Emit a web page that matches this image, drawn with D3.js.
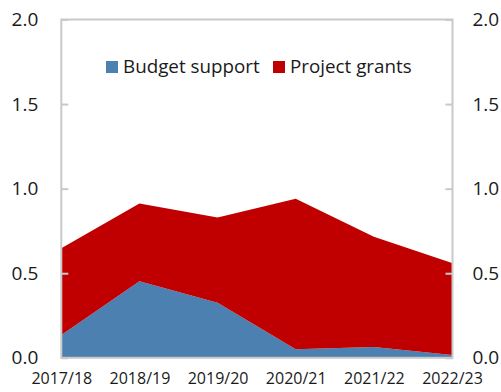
<!DOCTYPE html>
<html>
<head>
<meta charset="utf-8">
<script src="https://cdn.jsdelivr.net/npm/d3@7"></script>
<style>
  html, body { margin: 0; padding: 0; background: #fff; }
  svg { display: block; }
  text { font-family: "Open Sans", "Noto Sans", sans-serif; fill: #1a1a1a; }
</style>
</head>
<body>
<svg id="chart" width="501" height="392"></svg>
<script>
// Fiscal years on the x axis
const years = ["2017/18", "2018/19", "2019/20", "2020/21", "2021/22", "2022/23"];
// Series values (stacked)
const budgetSupport = [0.135, 0.453, 0.325, 0.05, 0.064, 0.016];
const projectGrants = [0.513, 0.459, 0.505, 0.89, 0.651, 0.545];
// Axis ticks
const yTicks = [0, 0.5, 1.0, 1.5, 2.0];
const seriesNames = ["Budget support", "Project grants"];
const seriesColors = ["#4b80b1", "#c00000"];

const svg = d3.select("#chart");
const plotLeft = 61.3, plotRight = 452.5, plotTop = 19.5, plotBottom = 357.8;

const x = d3.scalePoint().domain(years).range([plotLeft, plotRight - 0.5]);
const y = d3.scaleLinear().domain([0, 2]).range([plotBottom, plotTop]);

const rows = years.map((yr, i) => ({ year: yr, budget: budgetSupport[i], project: projectGrants[i] }));
const layers = d3.stack().keys(["budget", "project"])(rows);

const area = d3.area()
  .x(d => x(d.data.year))
  .y0(d => y(d[0]))
  .y1(d => y(d[1]));

svg.append("g").selectAll("path")
  .data(layers)
  .join("path")
  .attr("d", area)
  .attr("fill", (d, i) => seriesColors[i]);

// Frame around the plot area
const frameColor = "#c9c9c9";
svg.append("rect")
  .attr("x", plotLeft).attr("y", plotTop)
  .attr("width", plotRight - plotLeft).attr("height", plotBottom - plotTop)
  .attr("fill", "none").attr("stroke", frameColor).attr("stroke-width", 2);

// Left axis
const leftAxis = svg.append("g").attr("transform", `translate(${plotLeft},0)`)
  .call(d3.axisLeft(y).tickValues(yTicks).tickFormat(d3.format(".1f")).tickSize(-7).tickPadding(23));
leftAxis.select(".domain").remove();
leftAxis.selectAll("line").attr("stroke", frameColor).attr("stroke-width", 2);
leftAxis.selectAll("text").attr("font-size", 19).attr("fill", "#1a1a1a")
  .attr("font-family", "'Open Sans', sans-serif");

// Right axis
const rightAxis = svg.append("g").attr("transform", `translate(${plotRight},0)`)
  .call(d3.axisRight(y).tickValues(yTicks).tickFormat(d3.format(".1f")).tickSize(-7).tickPadding(20));
rightAxis.select(".domain").remove();
rightAxis.selectAll("line").attr("stroke", frameColor).attr("stroke-width", 2);
rightAxis.selectAll("text").attr("font-size", 19).attr("fill", "#1a1a1a")
  .attr("font-family", "'Open Sans', sans-serif");

// Bottom axis labels
const bottomAxis = svg.append("g").attr("transform", `translate(0,${plotBottom})`)
  .call(d3.axisBottom(x).tickSize(0).tickPadding(15));
bottomAxis.select(".domain").remove();
bottomAxis.selectAll("text").attr("font-size", 16).attr("fill", "#1a1a1a")
  .attr("font-family", "'Open Sans', sans-serif");

// Legend
const legendItems = [
  { name: seriesNames[0], color: seriesColors[0], x: 106 },
  { name: seriesNames[1], color: seriesColors[1], x: 273 }
];
const lg = svg.append("g");
legendItems.forEach(it => {
  lg.append("rect").attr("x", it.x).attr("y", 61).attr("width", 12).attr("height", 12).attr("fill", it.color);
  lg.append("text").attr("x", it.x + 17).attr("y", 73).attr("font-size", 18.8).text(it.name);
});
</script>
</body>
</html>
